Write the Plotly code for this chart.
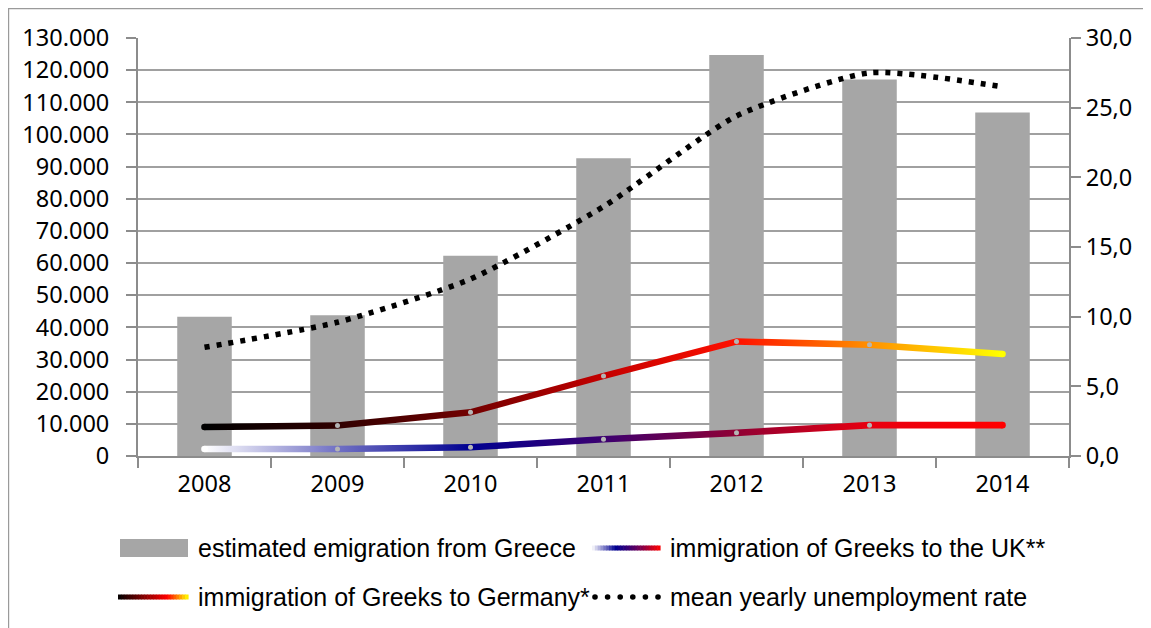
import plotly.graph_objects as go

# ---- data ----
years = ["2008", "2009", "2010", "2011", "2012", "2013", "2014"]
emigration = [43300, 43800, 62300, 92600, 124700, 117100, 106800]
germany = [9000, 9500, 13600, 24900, 35600, 34600, 31700]
uk = [2200, 2200, 2700, 5200, 7200, 9600, 9600]
unemployment = [7.8, 9.6, 12.7, 17.9, 24.4, 27.5, 26.5]

left_ticks = list(range(0, 130001, 10000))
right_ticks = [0, 5, 10, 15, 20, 25, 30]

legend_labels = [
    "estimated emigration from Greece",
    "immigration of Greeks to the UK**",
    "immigration of Greeks to Germany*",
    "mean yearly unemployment rate",
]

# ---- styles ----
OFF = 8  # page body margin offset
W, H = 1151, 628
ML, MT = 138 - OFF, 38 - OFF
PW, PH = 931, 418
MR, MB = W - ML - PW, H - MT - PH
BAR_COLOR = "#a6a6a6"
GRID = "#a0a0a0"
AXIS = "#8c8c8c"
TICKFONT = dict(family="Noto Sans", size=23.5, color="#000000")
LEGFONT = dict(family="Liberation Sans Narrow, Arial Narrow, sans-serif", size=25, color="#000000")

GER_SCALE = [[0, "#000000"], [0.167, "#300000"], [0.333, "#720000"], [0.5, "#c40000"],
             [0.667, "#ff1000"], [0.833, "#ff9000"], [1, "#ffff00"]]
UK_SCALE = [[0, "#ffffff"], [0.167, "#7070c4"], [0.333, "#000090"], [0.5, "#3c0070"],
            [0.667, "#900034"], [0.833, "#e80010"], [1, "#ff0000"]]

HALF = 3.3 * 130000 / PH  # half line thickness in data units


def px2x(px):
    # px given in reference-image coordinates
    return (px - OFF - ML) / PW


def py2y(py):
    return (MT + PH - (py - OFF)) / PH


def hex2rgb(h):
    h = h.lstrip("#")
    return tuple(int(h[i:i + 2], 16) for i in (0, 2, 4))


def scale_color(scale, t):
    for (t0, c0), (t1, c1) in zip(scale[:-1], scale[1:]):
        if t0 <= t <= t1:
            f = 0 if t1 == t0 else (t - t0) / (t1 - t0)
            a, b = hex2rgb(c0), hex2rgb(c1)
            return "rgb(%d,%d,%d)" % tuple(round(a[i] + (b[i] - a[i]) * f) for i in range(3))
    return scale[-1][1]


fig = go.Figure()

fig.add_trace(go.Bar(x=years, y=emigration, marker=dict(color=BAR_COLOR, line=dict(width=0)),
                     width=0.41, showlegend=False, name=legend_labels[0]))

fig.add_trace(go.Scatter(x=years, y=unemployment, yaxis="y2", mode="lines",
                         line=dict(color="#000000", width=5.5, dash="5px,7px", shape="spline", smoothing=0.6),
                         showlegend=False, name=legend_labels[3]))


def gradient_line(vals, scale, name):
    xs = years + years[::-1]
    ys = [v + HALF for v in vals] + [v - HALF for v in vals[::-1]]
    fig.add_trace(go.Scatter(x=xs, y=ys, mode="lines", fill="toself", line=dict(width=0),
                             fillgradient=dict(type="horizontal", colorscale=scale),
                             showlegend=False, name=name, hoverinfo="skip"))
    fig.add_trace(go.Scatter(x=[years[0], years[-1]], y=[vals[0], vals[-1]], mode="markers",
                             marker=dict(size=6.6, color=[scale[0][1], scale[-1][1]], line=dict(width=0)),
                             showlegend=False, hoverinfo="skip"))
    fig.add_trace(go.Scatter(x=years[1:-1], y=vals[1:-1], mode="markers",
                             marker=dict(size=5, color="#b4b4b4", line=dict(width=0)),
                             showlegend=False, name=name))


gradient_line(germany, GER_SCALE, legend_labels[2])
gradient_line(uk, UK_SCALE, legend_labels[1])

shapes = []
annotations = []

# outer border
shapes.append(dict(type="rect", xref="paper", yref="paper", x0=px2x(8.6), x1=px2x(1180),
                   y0=py2y(8.6), y1=py2y(660), line=dict(color="#9a9a9a", width=1.2), layer="below"))


def gradient_swatch(x0, x1, yc, scale, n=24, thick=5):
    step = (x1 - x0) / n
    for i in range(n):
        c = scale_color(scale, (i + 0.5) / n)
        shapes.append(dict(type="rect", xref="paper", yref="paper",
                           x0=px2x(x0 + i * step), x1=px2x(x0 + (i + 1) * step + 0.6),
                           y0=py2y(yc + thick / 2), y1=py2y(yc - thick / 2),
                           fillcolor=c, line=dict(width=0)))


row1, row2 = 548, 597
col1_sw, col2_sw = 120, 592
col1_tx, col2_tx = 196, 668

# bar swatch
shapes.append(dict(type="rect", xref="paper", yref="paper", x0=px2x(col1_sw), x1=px2x(188),
                   y0=py2y(row1 + 9), y1=py2y(row1 - 9), fillcolor=BAR_COLOR, line=dict(width=0)))
gradient_swatch(col2_sw, 660, row1, [[0, "#ffffff"], [0.35, "#000090"], [0.65, "#600060"], [1, "#ff0000"]])
gradient_swatch(118, 188, row2, [[0, "#000000"], [0.4, "#900000"], [0.7, "#ff0000"], [1, "#ffff00"]])
for i in range(6):
    cx = col2_sw + 3 + i * 12.6
    shapes.append(dict(type="circle", xref="paper", yref="paper",
                       x0=px2x(cx - 2.8), x1=px2x(cx + 2.8), y0=py2y(row2 + 2.8), y1=py2y(row2 - 2.8),
                       fillcolor="#000000", line=dict(width=0)))

for txt, xp, yp in [(legend_labels[0], col1_tx, row1), (legend_labels[1], col2_tx, row1),
                    (legend_labels[2], col1_tx, row2), (legend_labels[3], col2_tx, row2)]:
    annotations.append(dict(text=txt, xref="paper", yref="paper", x=px2x(xp), y=py2y(yp),
                            xanchor="left", yanchor="middle", showarrow=False, font=LEGFONT))

fig.update_layout(
    width=W, height=H,
    margin=dict(l=ML, r=MR, t=MT, b=MB, pad=0),
    paper_bgcolor="#ffffff", plot_bgcolor="#ffffff",
    separators=",.",
    showlegend=False,
    bargap=0.59,
    xaxis=dict(type="category", showgrid=False, showline=True, linecolor=AXIS, linewidth=2,
               ticks="outside", ticklen=10, tickwidth=1.5, tickcolor=AXIS, tickson="boundaries",
               tickfont=TICKFONT, ticklabelstandoff=6, range=[-0.5, 6.5], zeroline=False),
    yaxis=dict(range=[0, 130000], tickvals=left_ticks, tickformat=",d", showgrid=True,
               gridcolor=GRID, gridwidth=1.5, showline=True, linecolor=AXIS, linewidth=2,
               ticks="outside", ticklen=10, tickwidth=1.5, tickcolor=AXIS, tickfont=TICKFONT,
               ticklabelstandoff=12, zeroline=False),
    yaxis2=dict(range=[0, 30], tickvals=right_ticks, tickformat=".1f", overlaying="y", side="right",
                showgrid=False, showline=True, linecolor=AXIS, linewidth=2, ticks="outside",
                ticklen=10, tickwidth=1.5, tickcolor=AXIS, tickfont=TICKFONT, zeroline=False),
    shapes=shapes,
    annotations=annotations,
)

fig.write_html("out.html")
